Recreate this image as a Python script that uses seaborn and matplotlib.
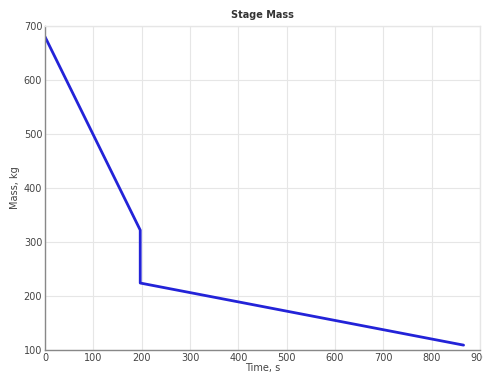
import matplotlib
matplotlib.use("Agg")
import matplotlib.pyplot as plt
import seaborn as sns
import pandas as pd

time_s = [0, 197, 197, 866]
mass_kg = [680, 322, 224, 109]
x_ticks = [0, 100, 200, 300, 400, 500, 600, 700, 800, 900]
y_ticks = [100, 200, 300, 400, 500, 600, 700]

sns.set_theme(style="whitegrid")
plt.rcParams['font.family'] = ['DejaVu Sans']

df = pd.DataFrame({"Time, s": time_s, "Mass, kg": mass_kg})

fig = plt.figure(figsize=(4.83, 3.74), dpi=100)
ax = fig.add_axes([0.0932, 0.0642, 0.9006, 0.8663])
sns.lineplot(data=df, x="Time, s", y="Mass, kg", ax=ax, color="#2323d8",
             linewidth=2.0, sort=False, estimator=None)
ax.set_xlim(0, 900)
ax.set_ylim(100, 700)
ax.set_xticks(x_ticks)
ax.set_yticks(y_ticks)
ax.tick_params(axis="both", labelsize=7, colors="#444444", length=3,
               direction="in")
ax.tick_params(axis="x", pad=2)
ax.tick_params(axis="y", pad=2)
ax.grid(True, color="#e6e6e6", linewidth=0.8)
for side in ["left", "bottom"]:
    ax.spines[side].set_color("#888888")
    ax.spines[side].set_linewidth(1.0)
for side in ["top", "right"]:
    ax.spines[side].set_color("#e6e6e6")
    ax.spines[side].set_linewidth(1.0)
ax.set_xlabel("Time, s", fontsize=7, color="#444444", labelpad=0)
ax.set_ylabel("Mass, kg", fontsize=7, color="#444444", labelpad=3)
ax.set_title("Stage Mass", fontsize=7, color="#333333", pad=6,
             fontweight="semibold")
fig.savefig("out.png", dpi=100)
